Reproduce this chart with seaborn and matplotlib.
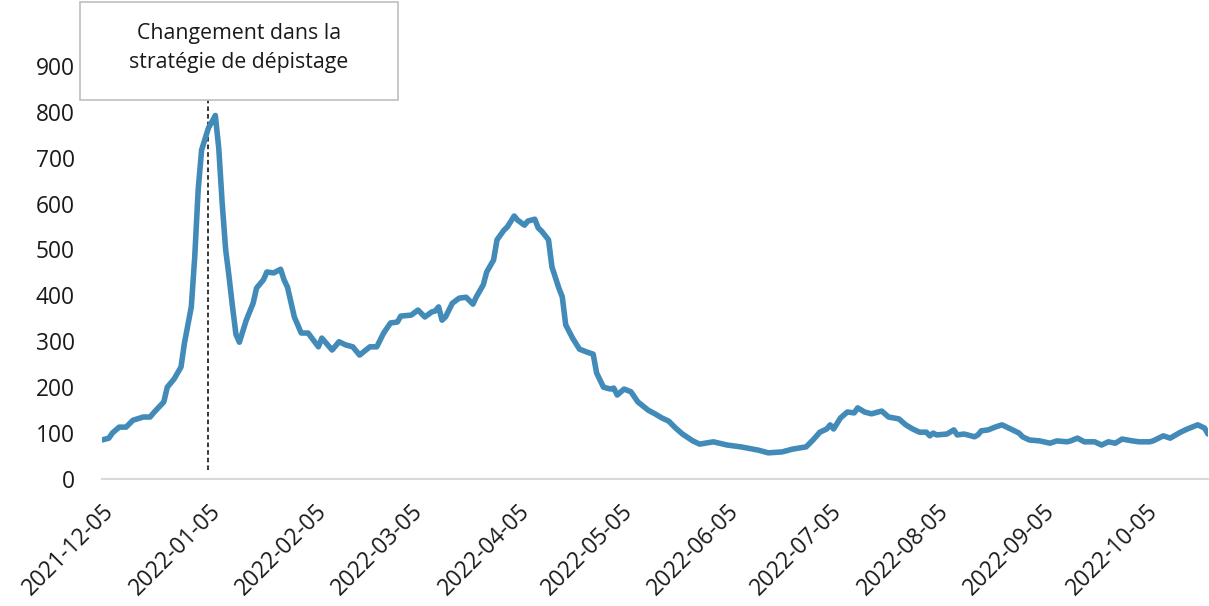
import matplotlib
matplotlib.use("Agg")
import matplotlib.pyplot as plt
from matplotlib.patches import Rectangle
import pandas as pd
import seaborn as sns

dates = [
    "2021-12-05", "2021-12-07", "2021-12-08", "2021-12-10", "2021-12-12", "2021-12-14",
    "2021-12-17", "2021-12-19", "2021-12-20", "2021-12-23", "2021-12-24", "2021-12-26",
    "2021-12-28", "2021-12-29", "2021-12-31", "2022-01-01", "2022-01-02", "2022-01-03",
    "2022-01-05", "2022-01-06", "2022-01-07", "2022-01-08", "2022-01-09", "2022-01-10",
    "2022-01-11", "2022-01-12", "2022-01-13", "2022-01-14", "2022-01-16", "2022-01-18",
    "2022-01-19", "2022-01-21", "2022-01-22", "2022-01-24", "2022-01-26", "2022-01-27",
    "2022-01-28", "2022-01-30", "2022-02-01", "2022-02-03", "2022-02-06", "2022-02-07",
    "2022-02-10", "2022-02-12", "2022-02-14", "2022-02-16", "2022-02-18", "2022-02-21",
    "2022-02-23", "2022-02-25", "2022-02-27", "2022-03-01", "2022-03-02", "2022-03-05",
    "2022-03-07", "2022-03-09", "2022-03-11", "2022-03-12", "2022-03-13", "2022-03-14",
    "2022-03-15", "2022-03-17", "2022-03-19", "2022-03-21", "2022-03-23", "2022-03-24",
    "2022-03-26", "2022-03-27", "2022-03-29", "2022-03-30", "2022-04-01", "2022-04-02",
    "2022-04-04", "2022-04-05", "2022-04-07", "2022-04-08", "2022-04-10", "2022-04-11",
    "2022-04-12", "2022-04-14", "2022-04-15", "2022-04-17", "2022-04-18", "2022-04-19",
    "2022-04-21", "2022-04-23", "2022-04-25", "2022-04-27", "2022-04-28", "2022-04-30",
    "2022-05-02", "2022-05-03", "2022-05-04", "2022-05-06", "2022-05-08", "2022-05-10",
    "2022-05-13", "2022-05-15", "2022-05-17", "2022-05-19", "2022-05-21", "2022-05-23",
    "2022-05-26", "2022-05-28", "2022-06-01", "2022-06-05", "2022-06-09", "2022-06-14",
    "2022-06-17", "2022-06-21", "2022-06-24", "2022-06-28", "2022-06-30", "2022-07-02",
    "2022-07-04", "2022-07-05", "2022-07-06", "2022-07-08", "2022-07-10", "2022-07-12",
    "2022-07-13", "2022-07-15", "2022-07-17", "2022-07-19", "2022-07-20", "2022-07-22",
    "2022-07-25", "2022-07-27", "2022-07-29", "2022-07-31", "2022-08-02", "2022-08-03",
    "2022-08-04", "2022-08-05", "2022-08-08", "2022-08-10", "2022-08-11", "2022-08-13",
    "2022-08-16", "2022-08-17", "2022-08-18", "2022-08-20", "2022-08-22", "2022-08-24",
    "2022-08-26", "2022-08-29", "2022-08-30", "2022-09-01", "2022-09-04", "2022-09-07",
    "2022-09-09", "2022-09-12", "2022-09-13", "2022-09-15", "2022-09-17", "2022-09-20",
    "2022-09-22", "2022-09-24", "2022-09-26", "2022-09-28", "2022-10-01", "2022-10-03",
    "2022-10-06", "2022-10-07", "2022-10-10", "2022-10-12", "2022-10-15", "2022-10-17",
    "2022-10-20", "2022-10-22", "2022-10-23",
]

values = [
    85, 89, 100, 113, 113, 128,
    135, 135, 144, 168, 200, 218,
    244, 296, 375, 484, 630, 717,
    765, 778, 792, 720, 600, 500,
    440, 375, 315, 298, 346, 383,
    416, 434, 451, 449, 457, 434,
    418, 353, 318, 318, 288, 307,
    281, 299, 292, 288, 270, 288,
    288, 318, 340, 342, 355, 357,
    368, 353, 364, 366, 375, 346,
    353, 383, 394, 396, 381, 397,
    423, 451, 477, 521, 542, 549,
    573, 564, 553, 562, 566, 547,
    540, 521, 462, 416, 397, 336,
    307, 283, 277, 272, 231, 200,
    196, 198, 183, 196, 190, 168,
    150, 142, 133, 126, 111, 98,
    83, 76, 81, 74, 70, 63,
    57, 59, 65, 70, 85, 102,
    109, 118, 109, 133, 146, 144,
    155, 146, 142, 146, 148, 135,
    131, 118, 109, 102, 102, 94,
    100, 96, 98, 107, 96, 98,
    92, 96, 105, 107, 113, 118,
    111, 100, 92, 85, 83, 78,
    83, 81, 83, 89, 81, 81,
    74, 81, 78, 87, 83, 81,
    81, 83, 94, 89, 102, 109,
    118, 111, 98,
]

tick_dates = ["2021-12-05", "2022-01-05", "2022-02-05", "2022-03-05", "2022-04-05",
              "2022-05-05", "2022-06-05", "2022-07-05", "2022-08-05", "2022-09-05",
              "2022-10-05"]
y_ticks = [0, 100, 200, 300, 400, 500, 600, 700, 800, 900]
annotation_text = "Changement dans la\nstratégie de dépistage"
change_date = "2022-01-05"

sns.set_style("white")
plt.rcParams["font.family"] = ["Open Sans", "DejaVu Sans"]

df = pd.DataFrame({"date": pd.to_datetime(dates), "value": values})

FS_TICK = 16.4
FS_NOTE = 15.3
W, H = 1209, 606
fig = plt.figure(figsize=(W / 100, H / 100), dpi=100)
ax = fig.add_axes([102 / W, 1 - 479 / H, (1208 - 102) / W, 459 / H])

sns.lineplot(data=df, x="date", y="value", ax=ax, color="#428bb8",
             linewidth=4.0, solid_joinstyle="round", solid_capstyle="round")

cd = pd.Timestamp(change_date)
ax.vlines(cd, 20, 826, colors="black", linestyles=(0, (3, 2)), linewidth=1.1,
          clip_on=False, zorder=1)

ax.set_xlim(pd.Timestamp("2021-12-05"), pd.Timestamp("2022-10-23"))
ax.set_ylim(0, 1000)
ax.set_yticks(y_ticks)
ax.set_yticklabels([str(v) for v in y_ticks], fontsize=FS_TICK, color="#1a1a1a")
ax.set_xticks(pd.to_datetime(tick_dates))
ax.set_xticklabels(tick_dates, fontsize=FS_TICK, color="#1a1a1a",
                   rotation=45, ha="right", rotation_mode="anchor")
ax.set_xlabel("")
ax.set_ylabel("")

for s in ["top", "right", "left"]:
    ax.spines[s].set_visible(False)
ax.spines["bottom"].set_color("#d9d9d9")
ax.spines["bottom"].set_linewidth(1.5)
ax.tick_params(axis="x", direction="out", length=9, width=1.5, color="#d9d9d9", pad=6)
ax.tick_params(axis="y", length=0, pad=19.5)
ax.grid(False)

rect = Rectangle((80 / W, 1 - 100 / H), 318 / W, 98 / H, transform=fig.transFigure,
                 facecolor="white", edgecolor="#bfbfbf", linewidth=1.2, zorder=5)
fig.patches.append(rect)
fig.text(239 / W, 1 - 48 / H, annotation_text, ha="center", va="center",
         fontsize=FS_NOTE, color="#1a1a1a", linespacing=1.45, zorder=6)

fig.savefig("out.png", dpi=100)
